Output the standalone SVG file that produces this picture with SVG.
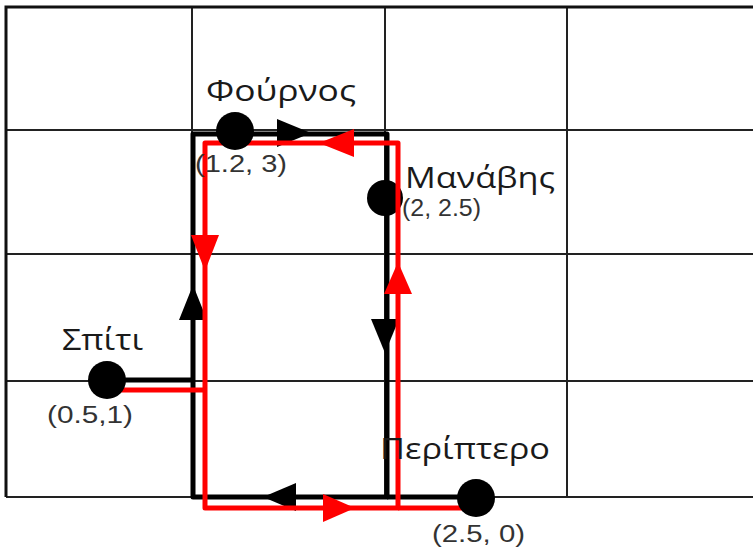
<svg xmlns="http://www.w3.org/2000/svg" width="753" height="552" viewBox="0 0 753 552">
  <style>
    .grid { stroke: #222; stroke-width: 2; fill: none; }
    .border { stroke: #111; stroke-width: 3; fill: none; }
    .route-black { stroke: #000; stroke-width: 5; fill: none; stroke-linejoin: round; }
    .route-red { stroke: #ff0000; stroke-width: 5; fill: none; stroke-linejoin: round; }
    .head-black { fill: #000; }
    .head-red { fill: #ff0000; }
    .dot { fill: #000; }
    .name { font-family: "Open Sans", "Noto Sans", "DejaVu Sans", sans-serif; font-size: 30px; fill: #1a1a1a; }
    .coord { font-family: "Liberation Sans", Arial, sans-serif; font-size: 23px; fill: #333; }
  </style>

  <rect width="753" height="552" fill="#ffffff"/>

  <!-- background grid -->
  <g id="grid">
    <path class="grid" d="M6,130 H753 M6,254 H753 M6,381 H753 M6,497 H753"/>
    <path class="grid" d="M192,7 V497 M385,7 V497 M567,7 V497"/>
    <path class="border" d="M6,497 V7 H753"/>
  </g>

  <!-- greengrocer sits under the red route -->
  <g id="node-manavis">
    <circle class="dot" cx="385" cy="198" r="18"/>
    <text class="name" x="405" y="188" textLength="150" lengthAdjust="spacingAndGlyphs">Μανάβης</text>
    <text class="coord" x="402" y="216" textLength="79" lengthAdjust="spacingAndGlyphs">(2, 2.5)</text>
  </g>

  <g id="connectors">
    <!-- black route -->
    <path class="route-black" d="M107,380 H193 V134 H387 V497 H193 V380"/>
    <path class="route-black" d="M387,497 H470"/>
    <polygon class="head-black" points="277,119 311,133 277,147"/>
    <polygon class="head-black" points="371,319 399,319 385,353"/>
    <polygon class="head-black" points="296,483 263,497 296,511"/>
    <polygon class="head-black" points="179,320 193,285 207,320"/>
    <!-- red route -->
    <path class="route-red" d="M120,390 H205"/>
    <path class="route-red" d="M205,390 V143 H398 V508 H205 V390"/>
    <path class="route-red" d="M398,508 H465"/>
    <polygon class="head-red" points="354,129 319,143 354,157"/>
    <polygon class="head-red" points="384,294 398,262 412,294"/>
    <polygon class="head-red" points="191,235 219,235 205,271"/>
    <polygon class="head-red" points="323,494 355,508 323,522"/>
  </g>

  <g id="node-fournos">
    <circle class="dot" cx="235" cy="131" r="19"/>
    <text class="name" x="206" y="101" textLength="150" lengthAdjust="spacingAndGlyphs">Φούρνος</text>
    <text class="coord" x="195" y="172" textLength="92" lengthAdjust="spacingAndGlyphs">(1.2, 3)</text>
  </g>

  <g id="node-spiti">
    <circle class="dot" cx="107" cy="380" r="19"/>
    <text class="name" x="62" y="350" textLength="81" lengthAdjust="spacingAndGlyphs">Σπίτι</text>
    <text class="coord" x="47" y="423" textLength="86" lengthAdjust="spacingAndGlyphs">(0.5,1)</text>
  </g>

  <g id="node-periptero">
    <circle class="dot" cx="476" cy="498" r="19"/>
    <text class="name" x="380" y="459" textLength="170" lengthAdjust="spacingAndGlyphs">Περίπτερο</text>
    <text class="coord" x="432" y="542" textLength="93" lengthAdjust="spacingAndGlyphs">(2.5, 0)</text>
  </g>
</svg>
